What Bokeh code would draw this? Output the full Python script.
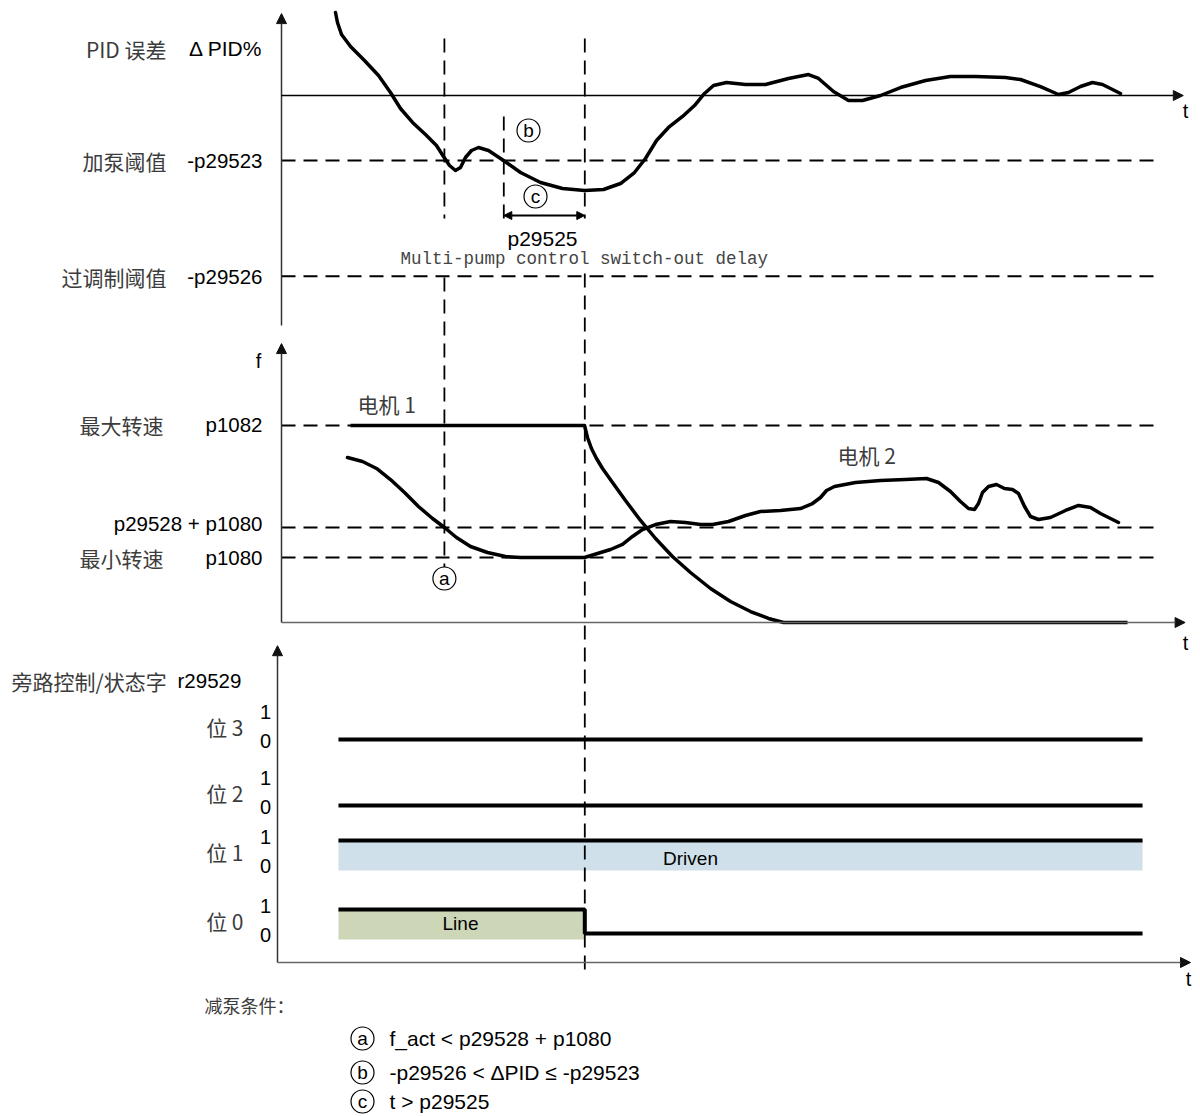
from bokeh.plotting import figure
from bokeh.models import Range1d, Arrow, NormalHead, Label
from bokeh.embed import file_html
from bokeh.resources import INLINE

# ---------------- data (schematic units) ----------------
# time in arbitrary units, t = 0 at the axis origin
T_A = 18.1          # condition (a) fulfilled
T_B = 24.7          # condition (b) fulfilled, delay starts
T_C = 33.7          # delay p29525 elapsed -> switch out
T_BIT_START = 6.33
T_BIT_END = 95.67
T_REF_END = 97.1

# PID error thresholds (%)
P29523 = 10.0
P29526 = 27.8

pid_t = [6.0, 6.22, 6.67, 7.67, 9.22, 10.78, 12.11, 13.22, 14.56, 16.0, 17.22, 18.0,
         18.67, 19.33, 19.89, 20.44, 21.11, 21.89, 23.0, 24.67, 26.56, 28.78, 31.22,
         33.67, 35.78, 37.67, 39.22, 40.44, 41.67, 43.0, 44.56, 45.89, 47.0, 48.0,
         49.44, 51.56, 53.78, 56.33, 58.56, 59.67, 61.33, 63.0, 64.56, 66.56, 68.78,
         71.56, 74.33, 77.11, 80.44, 82.11, 84.33, 86.33, 87.44, 88.78, 90.11, 91.22, 93.22]
pid_v = [12.77, 11.23, 9.38, 7.54, 5.38, 3.08, 0.46, -2.0, -4.15, -6.0, -7.69, -9.38,
         -10.77, -11.54, -11.08, -9.54, -8.46, -8.0, -8.46, -10.0, -11.85, -13.38, -14.31,
         -14.62, -14.46, -13.54, -11.85, -9.69, -6.92, -4.92, -3.23, -1.54, 0.31, 1.54,
         2.0, 1.69, 1.69, 2.62, 3.23, 2.62, 0.62, -0.77, -0.77, 0.0, 1.23,
         2.31, 2.92, 2.92, 2.77, 2.46, 1.38, 0.15, 0.46, 1.38, 2.0, 1.69, 0.31]

# speeds
P1082 = 50.0              # max speed
P1080 = 16.5              # min speed
P29528 = 7.6              # switch-out offset

motor1_t = [7.67, 33.67, 34.0, 34.44, 35.0, 35.67, 36.78, 38.22, 39.89, 41.56, 43.44,
            45.44, 47.67, 49.89, 52.11, 54.11, 55.78, 94.0]
motor1_f = [50.0, 50.0, 46.95, 44.16, 41.62, 39.09, 35.53, 30.96, 25.89, 21.32, 16.75,
            12.69, 8.63, 5.33, 2.79, 1.02, 0.0, 0.0]

motor2_t = [7.33, 9.0, 10.56, 12.11, 13.67, 15.22, 16.78, 18.11, 19.44, 21.0, 22.89, 24.89,
            26.56, 33.67, 35.11, 36.56, 37.89, 39.0, 40.11, 41.56, 43.22, 44.89, 46.56,
            47.89, 49.67, 51.56, 53.22, 55.44, 57.67, 59.0, 59.89, 60.56, 61.44, 63.78,
            66.56, 69.33, 71.67, 73.0, 74.33, 75.44, 76.33, 77.0, 77.44, 77.89, 78.56,
            79.44, 80.33, 81.22, 81.89, 82.56, 83.22, 84.11, 85.44, 87.11, 88.56, 89.89,
            91.0, 92.11, 93.0]
motor2_f = [41.88, 40.86, 39.09, 36.29, 32.99, 29.44, 26.40, 24.11, 21.57, 19.29, 17.77, 16.75,
            16.50, 16.50, 17.51, 18.53, 19.80, 21.83, 23.60, 24.87, 25.63, 25.38, 24.87,
            24.87, 25.63, 27.16, 28.17, 28.43, 28.93, 30.20, 31.73, 33.50, 34.52, 35.53,
            36.04, 36.29, 36.55, 35.53, 33.25, 30.71, 28.93, 28.68, 30.20, 32.99, 34.52,
            35.03, 34.01, 33.76, 32.74, 29.44, 26.90, 26.14, 26.65, 28.43, 29.70, 29.19,
            27.66, 26.40, 25.38]

# status word r29529 bits
bit_labels = ["位 3", "位 2", "位 1", "位 0"]
bit_before = [0, 0, 1, 1]
bit_after = [0, 0, 1, 0]
band_bits = ["位 1", "位 0"]
band_texts = ["Driven", "Line"]
band_colors = ["#cfe0ea", "#cdd6b7"]

conditions = ["f_act < p29528 + p1080", "-p29526 < ΔPID ≤ -p29523", "t > p29525"]
condition_keys = ["a", "b", "c"]

# ---------------- layout ----------------
LAT = "Liberation Sans"
CJK = "Noto Sans CJK SC"
MONO = "Liberation Mono"
GRAY = "#3c3c3c"
AX = "#333333"
DASH = "14 8"
CJK_SIZE = "21px"

W, H = 1200, 1116
p = figure(width=W, height=H,
           x_range=Range1d(-281 / 9, (W - 281) / 9), y_range=Range1d(H, 0),
           x_axis_location=None, y_axis_location=None, toolbar_location=None,
           output_backend="svg", min_border=0, outline_line_color=None)
p.grid.visible = False
p.extra_x_ranges = {"px": Range1d(0, W)}
p.extra_y_ranges = {"pid": Range1d((95 - H) / 6.5, 95 / 6.5),
                    "freq": Range1d((622 - H) / 3.94, 622 / 3.94),
                    "bits": Range1d((962 - H) / 24, 962 / 24)}

ROW_BASE = [9.29, 6.54, 4.08, 1.21]     # bits-panel offsets of each row


def lab(x, y, text, align="left", color="black", font=LAT, size="20px",
        xr="px", yr="default"):
    p.add_layout(Label(x=x, y=y, text=text, text_align=align, text_baseline="middle",
                       text_color=color, text_font=font, text_font_size=size,
                       x_range_name=xr, y_range_name=yr))


def arrow(x0, y0, x1, y1, xr="default", yr="default", w=1.5, color=AX, size=10):
    p.add_layout(Arrow(end=NormalHead(size=size, fill_color="#111111", line_color="#111111"),
                       x_start=x0, y_start=y0, x_end=x1, y_end=y1,
                       x_range_name=xr, y_range_name=yr,
                       line_width=w, line_color=color))


# ---- bands (bit panel) ----
for name, col in zip(band_bits, band_colors):
    i = bit_labels.index(name)
    right = T_BIT_END if bit_after[i] == 1 else T_C
    p.quad(left=[T_BIT_START], right=[right], bottom=[ROW_BASE[i] - 0.25],
           top=[ROW_BASE[i] + 1.0], fill_color=col, line_color=None, y_range_name="bits")

# ---- reference dashed lines ----
p.segment(x0=[0, 0], x1=[T_REF_END] * 2, y0=[-P29523, -P29526], y1=[-P29523, -P29526],
          line_dash=DASH, line_width=2, line_color="black", y_range_name="pid")
lv = [P1082, P29528 + P1080, P1080]
p.segment(x0=[0] * 3, x1=[T_REF_END] * 3, y0=lv, y1=lv,
          line_dash=DASH, line_width=2, line_color="black", y_range_name="freq")

# ---- vertical event markers (layout y) ----
p.segment(x0=[T_A, T_A, T_B, T_C, T_C], x1=[T_A, T_A, T_B, T_C, T_C],
          y0=[38, 277, 116, 38, 273], y1=[218, 567, 218, 218, 975],
          line_dash=DASH, line_width=1.8, line_color="black")

# ---- axes ----
arrow(0, -35.4, 0, 12.6, yr="pid")
arrow(0, 0, 100.2, 0, yr="pid", color="black")
arrow(0, 0, 0, 70.8, yr="freq")
arrow(0, 0, 100.4, 0, yr="freq", color="#666666")
arrow(277, 0, 277, 13.2, xr="px", yr="bits")
arrow(277, 0, 1190, 0, xr="px", yr="bits", color="#666666")

# ---- curves ----
p.line(pid_t, pid_v, line_width=3.5, line_color="black", line_join="round",
       line_cap="round", y_range_name="pid")
p.line(motor1_t, motor1_f, line_width=3.5, line_color="black", line_join="round",
       y_range_name="freq")
p.line(motor2_t, motor2_f, line_width=3.5, line_color="black", line_join="round",
       line_cap="round", y_range_name="freq")

for i, name in enumerate(bit_labels):
    ys = [ROW_BASE[i] + bit_before[i], ROW_BASE[i] + bit_after[i], ROW_BASE[i] + bit_after[i]]
    p.step([T_BIT_START, T_C, T_BIT_END], ys, mode="after", line_width=4,
           line_color="black", y_range_name="bits")

# ---- p29525 delay arrow ----
p.add_layout(Arrow(start=NormalHead(size=8, fill_color="black"),
                   end=NormalHead(size=8, fill_color="black"),
                   x_start=T_B, x_end=T_C, y_start=215, y_end=215,
                   line_width=2, line_color="black"))

# ---- circled keys ----
p.scatter(x=[T_A], y=[578], marker="circle", size=23, fill_color="white",
          line_color="black", line_width=1.2)
lab(T_A, 578, "a", align="center", size="19px", xr="default")
p.scatter(x=[528, 535], y=[130, 196], marker="circle", size=23, fill_color="white",
          line_color="black", line_width=1.2, x_range_name="px")
lab(528, 130, "b", align="center", size="19px")
lab(535, 196, "c", align="center", size="19px")

# ---- panel 1 texts ----
lab(166, 48, "PID 误差", align="right", color=GRAY, font=CJK, size=CJK_SIZE)
lab(262, 48, "Δ PID%", align="right", size="21px")
lab(166, 160, "加泵阈值", align="right", color=GRAY, font=CJK, size=CJK_SIZE)
lab(262, 160, "-p29523", align="right", size="20.5px")
lab(166, 276, "过调制阈值", align="right", color=GRAY, font=CJK, size=CJK_SIZE)
lab(262, 276, "-p29526", align="right", size="20.5px")
lab(1185, 110, "t", align="center")
lab(542, 238, "p29525", align="center", size="21px")
lab(400, 258, "Multi-pump control switch-out delay", color="#444444", font=MONO,
    size="17.5px")

# ---- panel 2 texts ----
lab(258, 360, "f", align="center")
lab(163, 424, "最大转速", align="right", color=GRAY, font=CJK, size=CJK_SIZE)
lab(262, 424, "p1082", align="right", size="20.5px")
lab(262, 523, "p29528 + p1080", align="right", size="20.5px")
lab(163, 557, "最小转速", align="right", color=GRAY, font=CJK, size=CJK_SIZE)
lab(262, 557, "p1080", align="right", size="20.5px")
lab(357, 403, "电机 1", color=GRAY, font=CJK, size=CJK_SIZE)
lab(837, 454, "电机 2", color=GRAY, font=CJK, size=CJK_SIZE)
lab(1185, 642, "t", align="center")

# ---- panel 3 texts ----
lab(11, 680, "旁路控制/状态字", color=GRAY, font=CJK, size=CJK_SIZE)
lab(177, 680, "r29529", size="20.5px")
for i, name in enumerate(bit_labels):
    lab(243, ROW_BASE[i] + 0.52, name, align="right", color=GRAY, font=CJK,
        size=CJK_SIZE, yr="bits")
    lab(265, ROW_BASE[i] + 1.15, "1", align="center", yr="bits")
    lab(265, ROW_BASE[i] - 0.05, "0", align="center", yr="bits")
lab(690, 858, "Driven", align="center", size="19px")
lab(460, 923, "Line", align="center", size="19px")
lab(1188, 978, "t", align="center")

# ---- switch-out conditions ----
lab(204, 1004, "减泵条件：", color=GRAY, font=CJK, size="18px")
cond_y = [1038, 1072, 1101]
p.scatter(x=[362] * 3, y=cond_y, marker="circle", size=23, fill_color="white",
          line_color="black", line_width=1.2, x_range_name="px")
for k, txt, yy in zip(condition_keys, conditions, cond_y):
    lab(362, yy, k, align="center", size="19px")
    lab(389, yy, txt, size="21px")

open("out.html", "w").write(file_html(p, INLINE))
